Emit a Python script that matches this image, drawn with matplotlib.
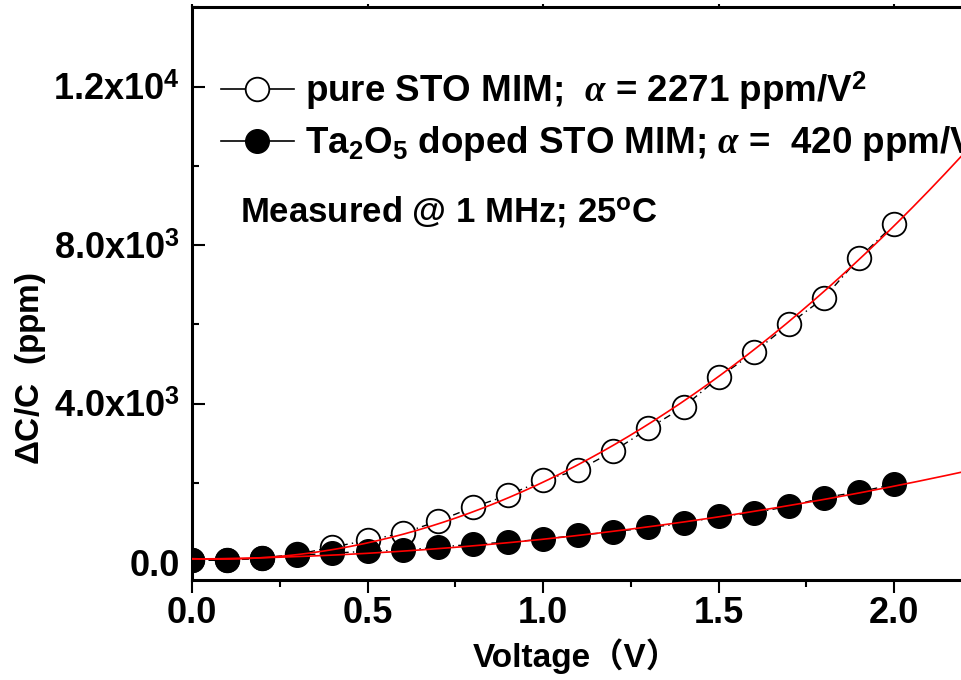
import matplotlib
matplotlib.use('Agg')
import matplotlib.pyplot as plt
import numpy as np
from matplotlib.lines import Line2D
from matplotlib.ticker import FixedLocator, MultipleLocator, FormatStrFormatter

plt.rcParams['font.family'] = ['Liberation Sans', 'DejaVu Sans']
plt.rcParams['font.weight'] = 'bold'
plt.rcParams['mathtext.fontset'] = 'custom'
plt.rcParams['mathtext.rm'] = 'Liberation Sans:bold'
plt.rcParams['mathtext.bf'] = 'Liberation Sans:bold'
plt.rcParams['mathtext.it'] = 'Liberation Serif:italic'

voltage = [0.0, 0.1, 0.2, 0.3, 0.4, 0.5, 0.6, 0.7, 0.8, 0.9, 1.0,
           1.1, 1.2, 1.3, 1.4, 1.5, 1.6, 1.7, 1.8, 1.9, 2.0]
pure_sto = [50, 50, 110, 200, 379, 555, 732, 1035, 1388, 1691, 2070,
            2322, 2802, 3375, 3920, 4663, 5293, 6007, 6671, 7681, 8530]
ta_doped = [50, 50, 101, 177, 227, 278, 303, 379, 454, 505, 581,
            681, 765, 876, 977, 1161, 1245, 1413, 1632, 1774, 1969]

# quadratic fits: alpha*V^2 + b*V + c
fit_pure = [2271, -340, 90]
fit_doped = [420, 80, 80]

yticks = [0, 4000, 8000, 12000]
ytick_labels = ['0.0', r'4.0x10$^3$', r'8.0x10$^3$', r'1.2x10$^4$']

fig = plt.figure(figsize=(9.61, 6.8), dpi=100)
ax = fig.add_axes([0.1998, 0.147, 0.8002, 0.842])

vfit = np.linspace(0, 2.25, 300)

ax.plot(voltage, pure_sto, linestyle=(0, (5, 3, 1, 3)), color='black', lw=1.0,
        marker='o', markersize=17, markerfacecolor='white', markeredgecolor='black',
        markeredgewidth=1.3, zorder=2)
ax.plot(voltage, ta_doped, linestyle=(0, (5, 3, 1, 3)), color='black', lw=1.0,
        marker='o', markersize=17, markerfacecolor='black', markeredgecolor='black',
        zorder=3)
ax.plot(vfit, np.polyval(fit_pure, vfit), color='red', lw=1.2, zorder=4)
ax.plot(vfit, np.polyval(fit_doped, vfit), color='red', lw=1.2, zorder=4)

ax.set_xlim(0, 2.19)
ax.set_ylim(-450, 14000)

ax.xaxis.set_major_locator(MultipleLocator(0.5))
ax.xaxis.set_minor_locator(MultipleLocator(0.25))
ax.xaxis.set_major_formatter(FormatStrFormatter('%.1f'))
ax.yaxis.set_major_locator(FixedLocator(yticks))
ax.set_yticklabels(ytick_labels)
ax.yaxis.set_minor_locator(MultipleLocator(2000))

for side in ['left', 'bottom', 'top']:
    ax.spines[side].set_linewidth(2.2)
ax.spines['right'].set_visible(False)

ax.tick_params(axis='x', which='major', direction='out', length=9.5, width=1.5,
               labelsize=26, pad=2, top=True)
ax.tick_params(axis='x', which='minor', direction='out', length=5, width=1.5, top=False)
ax.tick_params(axis='y', which='major', direction='in', length=9, width=1.5,
               labelsize=26, pad=9)
ax.tick_params(axis='y', which='minor', direction='in', length=5, width=1.5)
for t in ax.xaxis.get_major_ticks():
    t.tick2line.set_markersize(2)
    t.tick2line.set_color('#999999')

ax.set_xlabel('Voltage（V）', fontsize=24, fontweight='bold',
              family=['Liberation Sans', 'Noto Sans CJK SC'], labelpad=5)
ax.set_ylabel(r'$\Delta$C/C  (ppm)', fontsize=24, fontweight='bold')
ax.yaxis.set_label_coords(-0.187, 0.37)

handles = [
    Line2D([], [], color='black', lw=1.2, marker='o', markersize=17,
           markerfacecolor='white', markeredgecolor='black', markeredgewidth=1.3),
    Line2D([], [], color='black', lw=1.2, marker='o', markersize=17,
           markerfacecolor='black', markeredgecolor='black'),
]
labels = [r'pure STO MIM;  $\alpha$ = 2271 ppm/V$^2$',
          r'Ta$_2$O$_5$ doped STO MIM; $\alpha$ =  420 ppm/V$^2$']
ax.legend(handles, labels, loc='upper left', bbox_to_anchor=(0.018, 0.918),
          frameon=False, fontsize=26.5, handlelength=2.0, handletextpad=0.3,
          labelspacing=0.25, borderaxespad=0)

ax.text(0.0624, 0.644, r'Measured @ 1 MHz; 25$^{\rm o}$C', transform=ax.transAxes,
        fontsize=25, fontweight='bold', va='center', ha='left')

fig.savefig('out.png', dpi=100)
